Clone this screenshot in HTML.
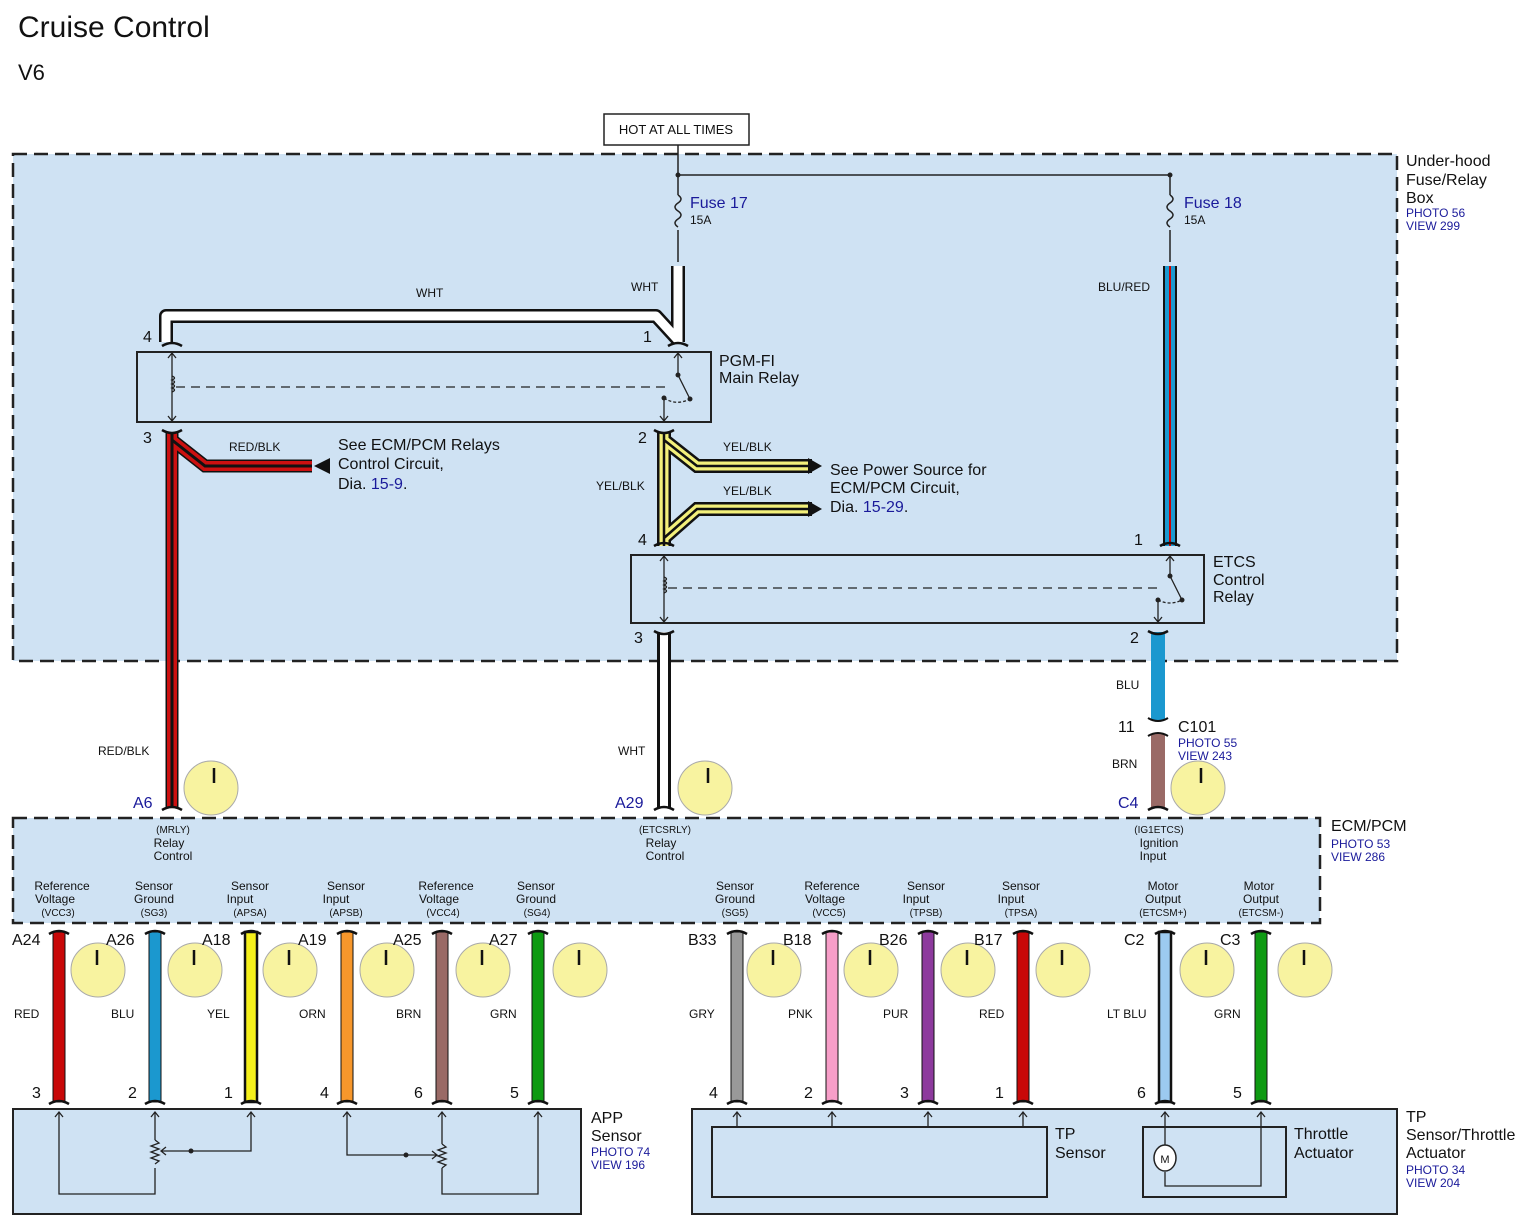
<!DOCTYPE html>
<html><head><meta charset="utf-8"><style>
html,body{margin:0;padding:0;background:#fff}
svg{display:block}
text{font-family:"Liberation Sans",Arial,sans-serif;fill:#111}
.b{fill:#1a1a9a}
</style></head><body>
<svg width="1536" height="1231" viewBox="0 0 1536 1231" xmlns="http://www.w3.org/2000/svg">
<text x="18" y="37" font-size="30">Cruise Control</text>
<text x="18" y="80" font-size="22">V6</text>

<rect x="13" y="154" width="1384" height="507" fill="#cfe2f3" stroke="#222" stroke-width="2.5" stroke-dasharray="14,7"/>
<text x="1406" y="166" font-size="16">Under-hood</text>
<text x="1406" y="185" font-size="16">Fuse/Relay</text>
<text x="1406" y="203" font-size="16">Box</text>
<text x="1406" y="217" font-size="12" class="b">PHOTO 56</text>
<text x="1406" y="230" font-size="12" class="b">VIEW 299</text>

<rect x="604" y="114" width="145" height="31" fill="#fff" stroke="#222" stroke-width="1.5"/>
<text x="676" y="134" font-size="13" text-anchor="middle">HOT AT ALL TIMES</text>
<g stroke="#222" stroke-width="1.5" fill="none">
<path d="M678 145V195M678 230V262"/>
<path d="M678 175H1170V195M1170 230V262"/>
<path d="M678 195q6 4 0 8q-6 4 0 8q6 4 0 8q-6 4 0 8"/>
<path d="M1170 195q6 4 0 8q-6 4 0 8q6 4 0 8q-6 4 0 8"/>
</g>
<circle cx="678" cy="175" r="2.5" fill="#222"/><circle cx="1170" cy="175" r="2.5" fill="#222"/>
<text x="690" y="208" font-size="16" class="b">Fuse 17</text><text x="690" y="224" font-size="12">15A</text>
<text x="1184" y="208" font-size="16" class="b">Fuse 18</text><text x="1184" y="224" font-size="12">15A</text>

<g fill="none" stroke-linejoin="round">
<path d="M166 342V316H656L678 340M678 266V342" stroke="#111" stroke-width="14"/>
<path d="M166 342V316H656L678 340M678 266V342" stroke="#fff" stroke-width="9"/>
</g>
<text x="416" y="297" font-size="12">WHT</text>
<text x="631" y="291" font-size="12">WHT</text>
<rect x="1163" y="266" width="14" height="280" fill="#111"/>
<rect x="1165" y="266" width="10" height="280" fill="#1b98cf"/>
<rect x="1169" y="266" width="2" height="280" fill="#c00"/>
<text x="1098" y="291" font-size="12">BLU/RED</text>

<rect x="137" y="352" width="574" height="70" fill="none" stroke="#222" stroke-width="2"/>
<text x="719" y="366" font-size="16">PGM-FI</text><text x="719" y="383" font-size="16">Main Relay</text>
<g stroke="#222" stroke-width="1.3" fill="none">
<path d="M172 354V420M168 358l4-5 4 5M168 416l4 5 4-5"/>
<path d="M172 376q5 2 0 4q5 2 0 4q5 2 0 4q5 2 0 4" />
<path d="M176 387H668" stroke-dasharray="9,6"/>
<path d="M678 354V375l12 24M664 420V398M674 358l4-5 4 5" />
<path d="M664 398q12 8 26 1" stroke-dasharray="3,2"/>
<path d="M660 416l4 5 4-5"/>
</g>
<circle cx="678" cy="375" r="2.5" fill="#222"/><circle cx="690" cy="399" r="2.5" fill="#222"/><circle cx="664" cy="398" r="2.5" fill="#222"/>
<text x="143" y="342" font-size="16">4</text><text x="643" y="342" font-size="16">1</text>
<text x="143" y="443" font-size="16">3</text><text x="638" y="443" font-size="16">2</text>

<g fill="none" stroke-linejoin="miter">
<path d="M172 432V808M172 440L205 466H312" stroke="#111" stroke-width="13"/>
<path d="M172 432V808M172 440L205 466H312" stroke="#cc1010" stroke-width="10"/>
<path d="M172 432V808M172 440L205 466H312" stroke="#111" stroke-width="3"/>
</g>
<path d="M314 466L330 458V474Z" fill="#111"/>
<text x="229" y="451" font-size="12">RED/BLK</text>
<text x="338" y="450" font-size="16">See ECM/PCM Relays</text>
<text x="338" y="469" font-size="16">Control Circuit,</text>
<text x="338" y="489" font-size="16">Dia. <tspan class="b">15-9</tspan>.</text>
<text x="98" y="755" font-size="12">RED/BLK</text>

<g fill="none">
<path d="M664 432V546M664 440L697 466H812M664 538L697 509H812" stroke="#111" stroke-width="14"/>
<path d="M664 432V546M664 440L697 466H812M664 538L697 509H812" stroke="#f3f07a" stroke-width="9"/>
<path d="M664 432V546M664 440L697 466H812M664 538L697 509H812" stroke="#111" stroke-width="2.5"/>
</g>
<path d="M822 466L808 458V474ZM822 509L808 501V517Z" fill="#111"/>
<text x="723" y="451" font-size="12">YEL/BLK</text>
<text x="723" y="495" font-size="12">YEL/BLK</text>
<text x="596" y="490" font-size="12">YEL/BLK</text>
<text x="830" y="475" font-size="16">See Power Source for</text>
<text x="830" y="493" font-size="16">ECM/PCM Circuit,</text>
<text x="830" y="512" font-size="16">Dia. <tspan class="b">15-29</tspan>.</text>
<text x="638" y="545" font-size="16">4</text><text x="1134" y="545" font-size="16">1</text>

<rect x="631" y="555" width="573" height="68" fill="none" stroke="#222" stroke-width="2"/>
<text x="1213" y="567" font-size="16">ETCS</text><text x="1213" y="585" font-size="16">Control</text><text x="1213" y="602" font-size="16">Relay</text>
<g stroke="#222" stroke-width="1.3" fill="none">
<path d="M664 557V621M660 561l4-5 4 5M660 617l4 5 4-5"/>
<path d="M664 577q5 2 0 4q5 2 0 4q5 2 0 4q5 2 0 4"/>
<path d="M668 588H1160" stroke-dasharray="9,6"/>
<path d="M1170 557V576l12 24M1158 621V600M1166 561l4-5 4 5M1154 617l4 5 4-5"/>
<path d="M1158 600q12 6 24 0" stroke-dasharray="3,2"/>
</g>
<circle cx="1170" cy="576" r="2.5" fill="#222"/><circle cx="1182" cy="600" r="2.5" fill="#222"/><circle cx="1158" cy="600" r="2.5" fill="#222"/>
<text x="634" y="643" font-size="16">3</text><text x="1130" y="643" font-size="16">2</text>

<rect x="657" y="632" width="14" height="176" fill="#111"/><rect x="660" y="632" width="8" height="176" fill="#fff"/>
<text x="618" y="755" font-size="12">WHT</text>
<rect x="1151" y="632" width="14" height="88" fill="#1b98cf"/>
<rect x="1151" y="734" width="14" height="74" fill="#9a6a66"/>
<path d="M1148 718q10 6 20 0M1148 736q10 -6 20 0" stroke="#111" stroke-width="2" fill="none"/>
<text x="1116" y="689" font-size="12">BLU</text>
<text x="1112" y="768" font-size="12">BRN</text>
<text x="1118" y="732" font-size="16">11</text>
<text x="1178" y="732" font-size="16">C101</text>
<text x="1178" y="747" font-size="12" class="b">PHOTO 55</text>
<text x="1178" y="760" font-size="12" class="b">VIEW 243</text>

<g stroke="#111" stroke-width="2.5" fill="none">
<path d="M162 346q10-6 20 0M668 346q10-6 20 0M162 430q10 6 20 0M654 430q10 6 20 0M654 546q10-6 20 0M1160 546q10-6 20 0M654 631q10 6 20 0M1148 631q10 6 20 0M162 810q10-6 20 0M654 810q10-6 20 0M1148 810q10-6 20 0"/>
</g>

<text x="133" y="808" font-size="16" class="b">A6</text>
<text x="615" y="808" font-size="16" class="b">A29</text>
<text x="1118" y="808" font-size="16" class="b">C4</text>
<g fill="#f8f3a0" stroke="#aaa" stroke-width="1">
<circle cx="211" cy="788" r="27"/><circle cx="705" cy="788" r="27"/><circle cx="1198" cy="788" r="27"/>
<circle cx="98" cy="970" r="27"/><circle cx="195" cy="970" r="27"/><circle cx="290" cy="970" r="27"/><circle cx="387" cy="970" r="27"/><circle cx="483" cy="970" r="27"/><circle cx="580" cy="970" r="27"/>
<circle cx="774" cy="970" r="27"/><circle cx="871" cy="970" r="27"/><circle cx="968" cy="970" r="27"/><circle cx="1063" cy="970" r="27"/><circle cx="1207" cy="970" r="27"/><circle cx="1305" cy="970" r="27"/>
</g>
<g stroke="#111" stroke-width="2.5">
<path d="M214 768v15M708 768v15M1201 768v15M97 950v15M194 950v15M289 950v15M386 950v15M482 950v15M579 950v15M773 950v15M870 950v15M967 950v15M1062 950v15M1206 950v15M1304 950v15"/>
</g>

<rect x="13" y="818" width="1307" height="105" fill="#cfe2f3" stroke="#222" stroke-width="2.5" stroke-dasharray="14,7"/>
<text x="1331" y="831" font-size="16">ECM/PCM</text>
<text x="1331" y="848" font-size="12" class="b">PHOTO 53</text>
<text x="1331" y="861" font-size="12" class="b">VIEW 286</text>
<g font-size="12" text-anchor="middle">
<text x="173" y="833" font-size="10">(MRLY)</text><text x="169" y="847">Relay</text><text x="173" y="860">Control</text>
<text x="665" y="833" font-size="10">(ETCSRLY)</text><text x="661" y="847">Relay</text><text x="665" y="860">Control</text>
<text x="1159" y="833" font-size="10">(IG1ETCS)</text><text x="1159" y="847">Ignition</text><text x="1153" y="860">Input</text>
</g>
<g font-size="12" text-anchor="middle">
<text x="62" y="890">Reference</text><text x="55" y="903">Voltage</text><text x="58" y="916" font-size="10">(VCC3)</text>
<text x="154" y="890">Sensor</text><text x="154" y="903">Ground</text><text x="154" y="916" font-size="10">(SG3)</text>
<text x="250" y="890">Sensor</text><text x="240" y="903">Input</text><text x="250" y="916" font-size="10">(APSA)</text>
<text x="346" y="890">Sensor</text><text x="336" y="903">Input</text><text x="346" y="916" font-size="10">(APSB)</text>
<text x="446" y="890">Reference</text><text x="439" y="903">Voltage</text><text x="443" y="916" font-size="10">(VCC4)</text>
<text x="536" y="890">Sensor</text><text x="536" y="903">Ground</text><text x="537" y="916" font-size="10">(SG4)</text>
<text x="735" y="890">Sensor</text><text x="735" y="903">Ground</text><text x="735" y="916" font-size="10">(SG5)</text>
<text x="832" y="890">Reference</text><text x="825" y="903">Voltage</text><text x="829" y="916" font-size="10">(VCC5)</text>
<text x="926" y="890">Sensor</text><text x="916" y="903">Input</text><text x="926" y="916" font-size="10">(TPSB)</text>
<text x="1021" y="890">Sensor</text><text x="1011" y="903">Input</text><text x="1021" y="916" font-size="10">(TPSA)</text>
<text x="1163" y="890">Motor</text><text x="1163" y="903">Output</text><text x="1163" y="916" font-size="10">(ETCSM+)</text>
<text x="1259" y="890">Motor</text><text x="1261" y="903">Output</text><text x="1261" y="916" font-size="10">(ETCSM-)</text>
</g>

<g stroke="#111" stroke-width="1">
<rect x="53" y="932" width="12" height="170" fill="#c80808"/>
<rect x="149" y="932" width="12" height="170" fill="#1b98cf"/>
<rect x="245" y="932" width="12" height="170" fill="#f5f01c" stroke-width="2.5"/>
<rect x="341" y="932" width="12" height="170" fill="#f7972b"/>
<rect x="436" y="932" width="12" height="170" fill="#9a6a66"/>
<rect x="532" y="932" width="12" height="170" fill="#0e9a12"/>
<rect x="731" y="932" width="12" height="170" fill="#999"/>
<rect x="826" y="932" width="12" height="170" fill="#f79ec8"/>
<rect x="922" y="932" width="12" height="170" fill="#8d3a9d"/>
<rect x="1017" y="932" width="12" height="170" fill="#c80808"/>
<rect x="1159" y="932" width="12" height="170" fill="#9ccaf0" stroke-width="2.5"/>
<rect x="1255" y="932" width="12" height="170" fill="#0e9a12"/>
</g>
<g stroke="#111" stroke-width="2.5" fill="none">
<path d="M49 934q10-6 20 0M145 934q10-6 20 0M241 934q10-6 20 0M337 934q10-6 20 0M432 934q10-6 20 0M528 934q10-6 20 0M727 934q10-6 20 0M822 934q10-6 20 0M918 934q10-6 20 0M1013 934q10-6 20 0M1155 934q10-6 20 0M1251 934q10-6 20 0"/>
<path d="M49 1104q10-6 20 0M145 1104q10-6 20 0M241 1104q10-6 20 0M337 1104q10-6 20 0M432 1104q10-6 20 0M528 1104q10-6 20 0M727 1104q10-6 20 0M822 1104q10-6 20 0M918 1104q10-6 20 0M1013 1104q10-6 20 0M1155 1104q10-6 20 0M1251 1104q10-6 20 0"/>
</g>
<g font-size="16" class="b">
<text x="12" y="945">A24</text><text x="106" y="945">A26</text><text x="202" y="945">A18</text><text x="298" y="945">A19</text><text x="393" y="945">A25</text><text x="489" y="945">A27</text>
<text x="688" y="945">B33</text><text x="783" y="945">B18</text><text x="879" y="945">B26</text><text x="974" y="945">B17</text><text x="1124" y="945">C2</text><text x="1220" y="945">C3</text>
</g>
<g font-size="12">
<text x="14" y="1018">RED</text><text x="111" y="1018">BLU</text><text x="207" y="1018">YEL</text><text x="299" y="1018">ORN</text><text x="396" y="1018">BRN</text><text x="490" y="1018">GRN</text>
<text x="689" y="1018">GRY</text><text x="788" y="1018">PNK</text><text x="883" y="1018">PUR</text><text x="979" y="1018">RED</text><text x="1107" y="1018">LT BLU</text><text x="1214" y="1018">GRN</text>
</g>
<g font-size="16">
<text x="32" y="1098">3</text><text x="128" y="1098">2</text><text x="224" y="1098">1</text><text x="320" y="1098">4</text><text x="414" y="1098">6</text><text x="510" y="1098">5</text>
<text x="709" y="1098">4</text><text x="804" y="1098">2</text><text x="900" y="1098">3</text><text x="995" y="1098">1</text><text x="1137" y="1098">6</text><text x="1233" y="1098">5</text>
</g>

<rect x="13" y="1109" width="568" height="105" fill="#cfe2f3" stroke="#222" stroke-width="2"/>
<text x="591" y="1123" font-size="16">APP</text><text x="591" y="1141" font-size="16">Sensor</text>
<text x="591" y="1156" font-size="12" class="b">PHOTO 74</text><text x="591" y="1169" font-size="12" class="b">VIEW 196</text>
<g stroke="#222" stroke-width="1.3" fill="none">
<path d="M59 1112V1194H155V1168M155 1112V1140"/>
<path d="M155 1140l4 3-8 3 8 3-8 3 8 3-8 3 8 3-4 3"/>
<path d="M251 1112V1151H162M166 1147l-5 4 5 4"/>
<path d="M347 1112V1155H436M432 1151l5 4-5 4"/>
<path d="M442 1112V1144M442 1144l4 3-8 3 8 3-8 3 8 3-8 3 8 3-4 3M442 1168V1194H538V1112"/>
<path d="M55 1117l4-5 4 5M151 1117l4-5 4 5M247 1117l4-5 4 5M343 1117l4-5 4 5M438 1117l4-5 4 5M534 1117l4-5 4 5"/>
</g>
<circle cx="191" cy="1151" r="2.5" fill="#222"/><circle cx="406" cy="1155" r="2.5" fill="#222"/>

<rect x="692" y="1109" width="705" height="105" fill="#cfe2f3" stroke="#222" stroke-width="2"/>
<rect x="712" y="1127" width="335" height="70" fill="none" stroke="#222" stroke-width="2"/>
<rect x="1143" y="1127" width="143" height="70" fill="none" stroke="#222" stroke-width="2"/>
<g stroke="#222" stroke-width="1.3" fill="none">
<path d="M737 1112V1127M832 1112V1127M928 1112V1127M1023 1112V1127"/>
<path d="M733 1117l4-5 4 5M828 1117l4-5 4 5M924 1117l4-5 4 5M1019 1117l4-5 4 5M1161 1117l4-5 4 5M1257 1117l4-5 4 5"/>
<path d="M1165 1112V1146M1165 1172V1186H1261V1112"/>
</g>
<ellipse cx="1165" cy="1158" rx="11" ry="13" fill="#fff" stroke="#222" stroke-width="1.5"/>
<text x="1165" y="1163" font-size="11" text-anchor="middle">M</text>
<text x="1055" y="1139" font-size="16">TP</text><text x="1055" y="1158" font-size="16">Sensor</text>
<text x="1294" y="1139" font-size="16">Throttle</text><text x="1294" y="1158" font-size="16">Actuator</text>
<text x="1406" y="1122" font-size="16">TP</text><text x="1406" y="1140" font-size="16">Sensor/Throttle</text><text x="1406" y="1158" font-size="16">Actuator</text>
<text x="1406" y="1174" font-size="12" class="b">PHOTO 34</text><text x="1406" y="1187" font-size="12" class="b">VIEW 204</text>
</svg>
</body></html>
